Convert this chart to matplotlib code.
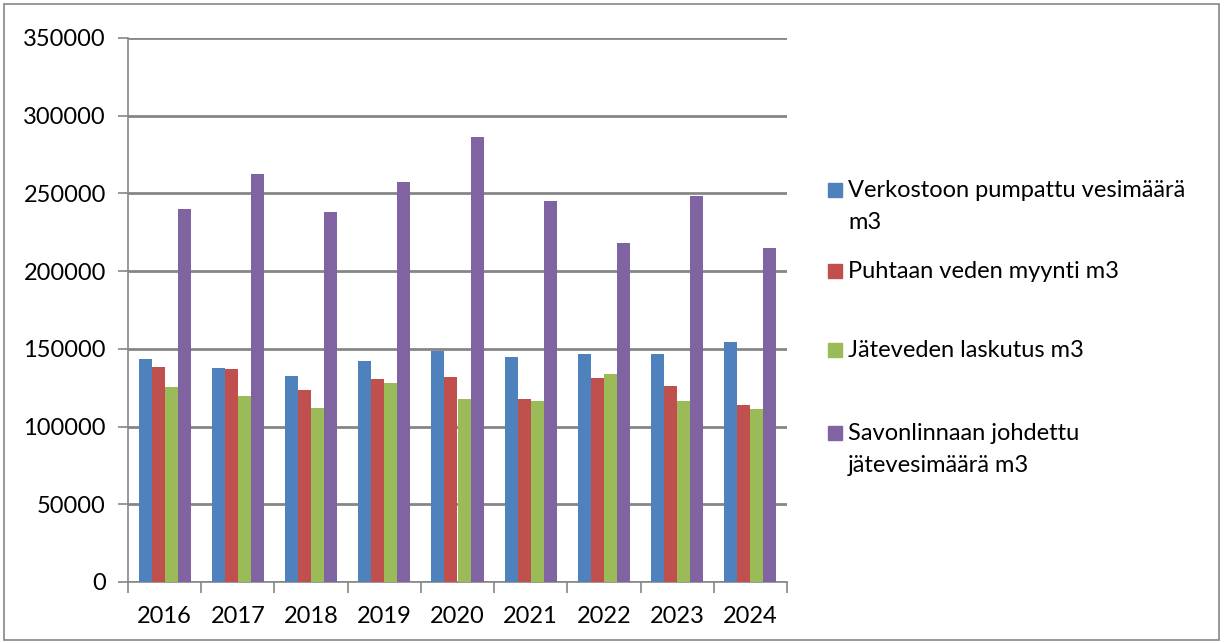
import numpy as np
import matplotlib.pyplot as plt
from matplotlib.patches import Rectangle

years = ['2016', '2017', '2018', '2019', '2020', '2021', '2022', '2023', '2024']
pumpattu = [143600, 137400, 132700, 142300, 148300, 144500, 146400, 146600, 154100]
myynti = [138300, 137200, 123300, 130800, 131700, 117800, 131200, 125900, 113900]
laskutus = [125600, 119500, 112000, 128000, 117800, 116500, 133800, 116500, 111300]
johdettu = [239700, 262200, 237800, 257300, 286300, 245300, 217800, 248100, 215000]

labels = ['Verkostoon pumpattu vesimäärä\nm3',
          'Puhtaan veden myynti m3',
          'Jäteveden laskutus m3',
          'Savonlinnaan johdettu\njätevesimäärä m3']
colors = ['#4F81BD', '#C0504D', '#9BBB59', '#8064A2']

plt.rcParams['font.family'] = ['Lato', 'DejaVu Sans']

W, H = 1225, 643
fig = plt.figure(figsize=(W / 100, H / 100), dpi=100)
ax = fig.add_axes([128 / W, 1 - 582 / H, (787 - 128) / W, (582 - 38) / H])

x = np.arange(len(years))
w = 0.178
series = [pumpattu, myynti, laskutus, johdettu]
for i, (vals, c) in enumerate(zip(series, colors)):
    ax.bar(x + (i - 1.5) * w, vals, w, color=c, zorder=3)

ax.set_xlim(-0.5, len(years) - 0.5)
ax.set_ylim(0, 350000)
ax.set_yticks(np.arange(0, 350001, 50000))
ax.set_yticklabels([str(v) for v in range(0, 350001, 50000)], fontsize=17)
ax.set_xticks(x)
ax.set_xticklabels(years, fontsize=17)
ax.set_xticks(np.arange(-0.5, len(years), 1), minor=True)
ax.tick_params(axis='x', which='major', length=0, pad=17)
ax.tick_params(axis='x', which='minor', length=8, color='#868686', width=1.2)
ax.tick_params(axis='y', length=7, color='#868686', width=1.2, pad=9)

ax.grid(axis='y', color='#868686', linewidth=2, zorder=0)
for s in ['top', 'right']:
    ax.spines[s].set_visible(False)
ax.spines['left'].set_color('#868686')
ax.spines['bottom'].set_color('#868686')
ax.spines['left'].set_linewidth(1.2)
ax.spines['bottom'].set_linewidth(1.2)

# legend drawn by hand so the squares sit on the first text line
legend_rows = [190, 271, 350, 433]
for lab, c, row in zip(labels, colors, legend_rows):
    fig.patches.append(Rectangle((828 / W, 1 - (row + 7) / H), 14 / W, 14 / H,
                                 transform=fig.transFigure, color=c))
    fig.text(848 / W, 1 - (row - 10) / H, lab, fontsize=17, va='top', ha='left',
             linespacing=1.65)

fig.patches.append(Rectangle((4 / W, 3 / H), 1215 / W, 636 / H, transform=fig.transFigure,
                             fill=False, edgecolor='#868686', linewidth=1.2))

fig.savefig('out.png', dpi=100)
